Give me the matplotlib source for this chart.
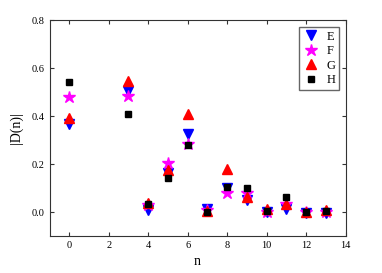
import numpy as np
import matplotlib
matplotlib.use('Agg')
import matplotlib.pyplot as plt

plt.rcParams['font.family'] = 'Liberation Serif'

n = [0, 3, 4, 5, 6, 7, 8, 9, 10, 11, 12, 13]
E = [0.367, 0.505, 0.010, 0.165, 0.326, 0.015, 0.100, 0.052, 0.000, 0.015, -0.004, -0.002]
F = [0.481, 0.484, 0.030, 0.204, 0.285, 0.012, 0.082, 0.080, 0.000, 0.035, 0.000, 0.000]
G = [0.391, 0.546, 0.040, 0.176, 0.408, 0.008, 0.179, 0.065, 0.015, 0.035, 0.002, 0.010]
H = [0.543, 0.408, 0.035, 0.144, 0.280, 0.003, 0.104, 0.102, 0.005, 0.065, 0.000, 0.005]

fig = plt.figure(figsize=(3.82, 2.73), dpi=100)
ax = fig.add_axes([0.1296, 0.1337, 0.7754, 0.793])

ax.plot(n, E, linestyle='none', marker='v', color='blue', markersize=7, label='E')
ax.plot(n, F, linestyle='none', marker='*', color='magenta', markersize=9, label='F')
ax.plot(n, G, linestyle='none', marker='^', color='red', markersize=7, label='G')
ax.plot(n, H, linestyle='none', marker='s', color='black', markersize=4.5, label='H')

ax.set_xlim(-1, 14)
ax.set_ylim(-0.1, 0.8)
ax.set_xticks(np.arange(0, 15, 2))
ax.set_yticks(np.arange(0, 0.81, 0.2))
ax.set_yticklabels([f'{v:.1f}' for v in np.arange(0, 0.81, 0.2)])
ax.tick_params(direction='in', top=True, right=True, labelsize=7.5, length=3, color='#333333')
for s in ax.spines.values():
    s.set_color('#333333')
    s.set_linewidth(0.8)

ax.set_xlabel('n', fontsize=10, labelpad=3)
ax.set_ylabel('|D(n)|', fontsize=10, labelpad=6)

leg = ax.legend(loc='upper right', fontsize=9, fancybox=False, framealpha=1,
                handletextpad=0.6, borderpad=0.3, labelspacing=0.2,
                handlelength=1.3, borderaxespad=0.55)
leg.get_frame().set_edgecolor('#666666')

plt.savefig('out.png', dpi=100)
plt.close()
